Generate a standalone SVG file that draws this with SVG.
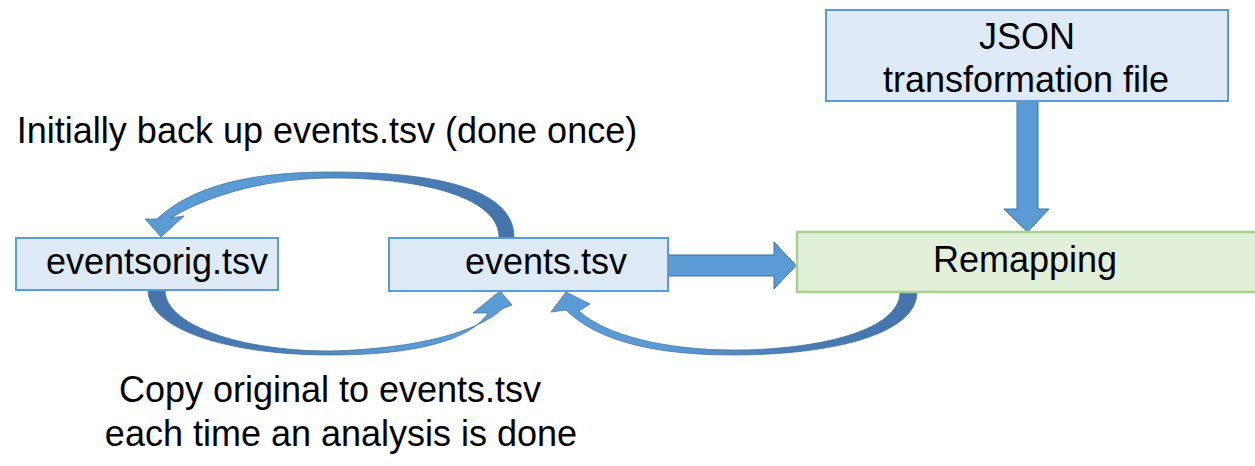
<svg xmlns="http://www.w3.org/2000/svg" width="1255" height="466" viewBox="0 0 1255 466">
<style>
.txt{font-family:"Liberation Sans",Arial,sans-serif;font-size:36px;fill:#000;text-anchor:middle}
.blue{fill:#deebf7;stroke:#5b9bd5;stroke-width:2}
.green{fill:#e2f0d9;stroke:#a9d18e;stroke-width:2.5}
.arr{fill:#5b9bd5;stroke:#41719c;stroke-width:1}
.carr{stroke:#41719c;stroke-width:0.75;stroke-linejoin:round}
</style>
<defs>
<linearGradient id="gTop" gradientUnits="userSpaceOnUse" x1="150" y1="0" x2="514" y2="0">
<stop offset="0" stop-color="#5b9bd5"/>
<stop offset="0.35" stop-color="#5b9bd5"/>
<stop offset="0.7" stop-color="#4a7db6"/>
<stop offset="1" stop-color="#4574ab"/>
</linearGradient>
<linearGradient id="gBot" gradientUnits="userSpaceOnUse" x1="148" y1="0" x2="510" y2="0">
<stop offset="0" stop-color="#4574ab"/>
<stop offset="0.35" stop-color="#4a7db6"/>
<stop offset="0.7" stop-color="#5b9bd5"/>
<stop offset="1" stop-color="#5b9bd5"/>
</linearGradient>
<linearGradient id="gRem" gradientUnits="userSpaceOnUse" x1="553" y1="0" x2="917" y2="0">
<stop offset="0" stop-color="#5b9bd5"/>
<stop offset="0.3" stop-color="#5b9bd5"/>
<stop offset="0.65" stop-color="#4a7db6"/>
<stop offset="1" stop-color="#4574ab"/>
</linearGradient>
</defs>
<rect width="1255" height="466" fill="#fff"/>

<g id="connectors">
<path id="c-backup" class="carr" fill="url(#gTop)" d="M 157 219 C 200 179 270 172 333 172 C 440 172 514 190 514 237 L 499 237 C 499 200 430 178 333 178 C 272 178 212 193 171 218 L 184 216 L 161 237 L 145 219 Z"/>
<path id="c-copy" class="carr" fill="url(#gBot)" d="M 148 290 C 148 330 230 355 330 355 C 422 355 472 338 488 313 L 473 313 L 500 291 L 512 305 L 502 309 C 478 332 415 349 330 351 C 240 351 165 325 165 290 Z"/>
<path id="c-return" class="carr" fill="url(#gRem)" d="M 917 292 C 917 335 830 355 733 355 C 658 355 598 342 566 310 L 551 312 L 566 292 L 590 304 L 579 311 C 605 335 665 350 733 350 C 820 350 900 330 900 292 Z"/>
<path id="c-events-remap" class="arr" d="M 668 255 L 774 255 L 774 242 L 796 265.5 L 774 289 L 774 276 L 668 276 Z"/>
<path id="c-json-remap" class="arr" d="M 1017 101 L 1038 101 L 1038 209 L 1049 209 L 1027.5 232 L 1004 209 L 1017 209 Z"/>
</g>

<g id="node-json">
<rect class="blue" x="826" y="10" width="402" height="91"/>
<text class="txt" x="1027" y="49">JSON</text>
<text class="txt" x="1026" y="92">transformation file</text>
</g>

<g id="node-remapping">
<rect class="green" x="797" y="232" width="470" height="60"/>
<text class="txt" x="1025" y="272">Remapping</text>
</g>

<g id="node-eventsorig">
<rect class="blue" x="16" y="238" width="262" height="52"/>
<text class="txt" x="157" y="274">eventsorig.tsv</text>
</g>

<g id="node-events">
<rect class="blue" x="389" y="238" width="279" height="53"/>
<text class="txt" x="546" y="274">events.tsv</text>
</g>

<g id="label-backup">
<text class="txt" x="327" y="143">Initially back up events.tsv (done once)</text>
</g>

<g id="label-copy">
<text class="txt" x="330" y="402">Copy original to events.tsv</text>
<text class="txt" x="341" y="446">each time an analysis is done</text>
</g>
</svg>
